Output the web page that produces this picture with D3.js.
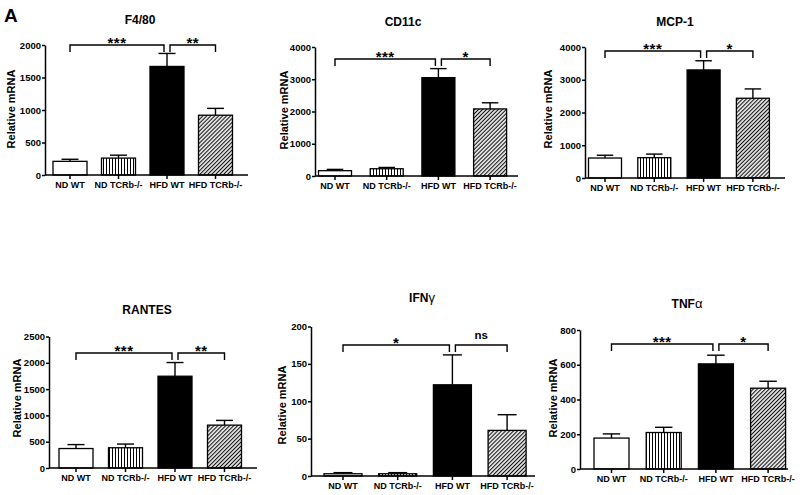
<!DOCTYPE html>
<html>
<head>
<meta charset="utf-8">
<script src="https://cdn.jsdelivr.net/npm/d3@7"></script>
<style>
  body { margin: 0; background: #fff; }
  svg { font-family: Arial, "Liberation Sans", Helvetica, sans-serif; font-weight: bold; }
</style>
</head>
<body>
<svg id="fig"></svg>
<script>
const W = 800, H = 495

// data
const groups = ['ND WT', 'ND TCRb-/-', 'HFD WT', 'HFD TCRb-/-']
const genes = ['F4/80', 'CD11c', 'MCP-1', 'RANTES', 'IFNγ', 'TNFα']
const means = [
  [210, 260, 1670, 920],
  [165, 225, 3050, 2080],
  [610, 620, 3300, 2435],
  [370, 385, 1745, 815],
  [3, 3, 122, 61],
  [178, 210, 605, 465]
]
const sems = [
  [32, 45, 200, 105],
  [40, 40, 280, 190],
  [85, 110, 280, 285],
  [75, 70, 260, 90],
  [1.5, 1.5, 40, 21],
  [24, 30, 50, 40]
]
const yTicks = [
  [0, 500, 1000, 1500, 2000],
  [0, 1000, 2000, 3000, 4000],
  [0, 1000, 2000, 3000, 4000],
  [0, 500, 1000, 1500, 2000, 2500],
  [0, 50, 100, 150, 200],
  [0, 200, 400, 600, 800]
]
// significance brackets: label, from group, to group
const marks = [
  [['***', 0, 2], ['**', 2, 3]],
  [['***', 0, 2], ['*', 2, 3]],
  [['***', 0, 2], ['*', 2, 3]],
  [['***', 0, 2], ['**', 2, 3]],
  [['*', 0, 2], ['ns', 2, 3]],
  [['***', 0, 2], ['*', 2, 3]]
]

// panel placement (pixels)
const panels = [
  {ax: 45,  axEnd: 248, y0: 175, yTop: 45,    c0: 70,    step: 48.5, bw: 34, tx: 140, ty: 23.5,  lx: 15,  ly: 109, by: 45},
  {ax: 315, axEnd: 518, y0: 176, yTop: 47,    c0: 335,   step: 51.7, bw: 33, tx: 403, ty: 26,    lx: 288, ly: 110, by: 59},
  {ax: 585, axEnd: 785, y0: 178, yTop: 47,    c0: 605,   step: 49.3, bw: 33, tx: 675, ty: 26,    lx: 552, ly: 109, by: 51},
  {ax: 49,  axEnd: 257, y0: 468, yTop: 336.5, c0: 76,    step: 49.5, bw: 34, tx: 147, ty: 313.5, lx: 21,  ly: 398, by: 353},
  {ax: 311, axEnd: 535, y0: 476, yTop: 326.5, c0: 343,   step: 54.7, bw: 38, tx: 422, ty: 302,   lx: 286, ly: 405, by: 345},
  {ax: 580, axEnd: 788, y0: 469, yTop: 330,   c0: 611.5, step: 52.2, bw: 35, tx: 687, ty: 307.5, lx: 557, ly: 398, by: 344}
]

const fills = ['#fff', 'url(#vstripe)', '#000', 'url(#hatch)']

let svg = d3.select('#fig').attr('width', W).attr('height', H)

let defs = svg.append('defs')
let vs = defs.append('pattern').attr('id', 'vstripe')
  .attr('patternUnits', 'userSpaceOnUse').attr('width', 3).attr('height', 3)
vs.append('rect').attr('width', 3).attr('height', 3).attr('fill', '#fff')
vs.append('line').attr('x1', 1.5).attr('x2', 1.5).attr('y1', 0).attr('y2', 3)
  .attr('stroke', '#000').attr('stroke-width', 1)
let ht = defs.append('pattern').attr('id', 'hatch')
  .attr('patternUnits', 'userSpaceOnUse').attr('width', 2.8).attr('height', 3)
  .attr('patternTransform', 'rotate(45)')
ht.append('rect').attr('width', 2.8).attr('height', 3).attr('fill', '#fff')
ht.append('line').attr('x1', 1.4).attr('x2', 1.4).attr('y1', 0).attr('y2', 3)
  .attr('stroke', '#111').attr('stroke-width', 1.2)

svg.append('text').attr('x', 4).attr('y', 21.5).attr('font-size', 19).text('A')

panels.forEach((p, k) => {
  let g = svg.append('g')
  let x = d3.scaleBand().domain(groups)
    .range([p.c0 - p.step / 2, p.c0 + 3.5 * p.step])
    .paddingInner(1 - p.bw / p.step).paddingOuter((1 - p.bw / p.step) / 2)
  let ticks = yTicks[k]
  let y = d3.scaleLinear().domain([0, d3.max(ticks)]).range([p.y0, p.yTop])

  let rows = groups.map((gr, i) => ({gr, i, m: means[k][i], e: sems[k][i]}))

  // bars
  g.selectAll('rect.bar').data(rows).enter().append('rect')
    .attr('class', 'bar')
    .attr('x', d => x(d.gr))
    .attr('width', x.bandwidth())
    .attr('y', d => y(d.m))
    .attr('height', d => y(0) - y(d.m))
    .attr('fill', d => fills[d.i])
    .attr('stroke', '#000').attr('stroke-width', 1.3)

  // error bars (upper only)
  let eb = g.selectAll('g.err').data(rows).enter().append('g').attr('class', 'err')
    .attr('stroke', '#000').attr('stroke-width', 1.4)
  eb.append('line')
    .attr('x1', d => x(d.gr) + x.bandwidth() / 2).attr('x2', d => x(d.gr) + x.bandwidth() / 2)
    .attr('y1', d => y(d.m)).attr('y2', d => y(d.m + d.e))
  eb.append('line')
    .attr('x1', d => x(d.gr) + x.bandwidth() / 4).attr('x2', d => x(d.gr) + x.bandwidth() * 3 / 4)
    .attr('y1', d => y(d.m + d.e)).attr('y2', d => y(d.m + d.e))

  // axes
  let yAxis = g.append('g').attr('transform', `translate(${p.ax},0)`)
    .call(d3.axisLeft(y).tickValues(ticks).tickSize(3).tickSizeOuter(0).tickPadding(1).tickFormat(d3.format('d')))
  let xAxis = g.append('g').attr('transform', `translate(0,${p.y0})`)
    .call(d3.axisBottom(x).tickSize(4).tickSizeOuter(0).tickPadding(3))
  xAxis.select('.domain').attr('d', `M${p.ax},0H${p.axEnd}`)
  ;[yAxis, xAxis].forEach(a => {
    a.attr('font-family', null).attr('font-size', null)
    a.selectAll('path,line').attr('stroke', '#000').attr('stroke-width', 1.5)
    a.selectAll('text').attr('fill', '#000')
  })
  yAxis.selectAll('text').attr('font-size', 9.5)
  xAxis.selectAll('text').attr('font-size', 9)

  // title
  let name = genes[k]
  let greek = /[α-ω]$/.test(name)
  let t = g.append('text').attr('x', p.tx).attr('y', p.ty)
    .attr('text-anchor', 'middle').attr('font-size', 12)
  t.append('tspan').text(greek ? name.slice(0, -1) : name)
  if (greek) t.append('tspan').attr('font-weight', 'normal').attr('font-size', 13).text(name.slice(-1))

  // y label
  g.append('text')
    .attr('transform', `translate(${p.lx},${p.ly}) rotate(-90)`)
    .attr('text-anchor', 'middle').attr('font-size', 11)
    .text('Relative mRNA')

  // significance brackets
  let cx = i => x(groups[i]) + x.bandwidth() / 2
  marks[k].forEach(([lab, a, b], j) => {
    let x1 = cx(a) + (j === 0 ? 0 : 3)
    let x2 = cx(b) - (j === 0 ? 3 : 0)
    g.append('path')
      .attr('d', `M${x1},${p.by + 7}V${p.by}H${x2}V${p.by + 7}`)
      .attr('fill', 'none').attr('stroke', '#000').attr('stroke-width', 1.4)
    let isStar = lab.includes('*')
    g.append('text')
      .attr('x', (x1 + x2) / 2)
      .attr('y', isStar ? p.by + 2.5 : p.by - 6)
      .attr('text-anchor', 'middle')
      .attr('font-size', isStar ? 15 : 11.5)
      .attr('letter-spacing', isStar ? 0.5 : 0)
      .text(lab)
  })
})
</script>
</body>
</html>
